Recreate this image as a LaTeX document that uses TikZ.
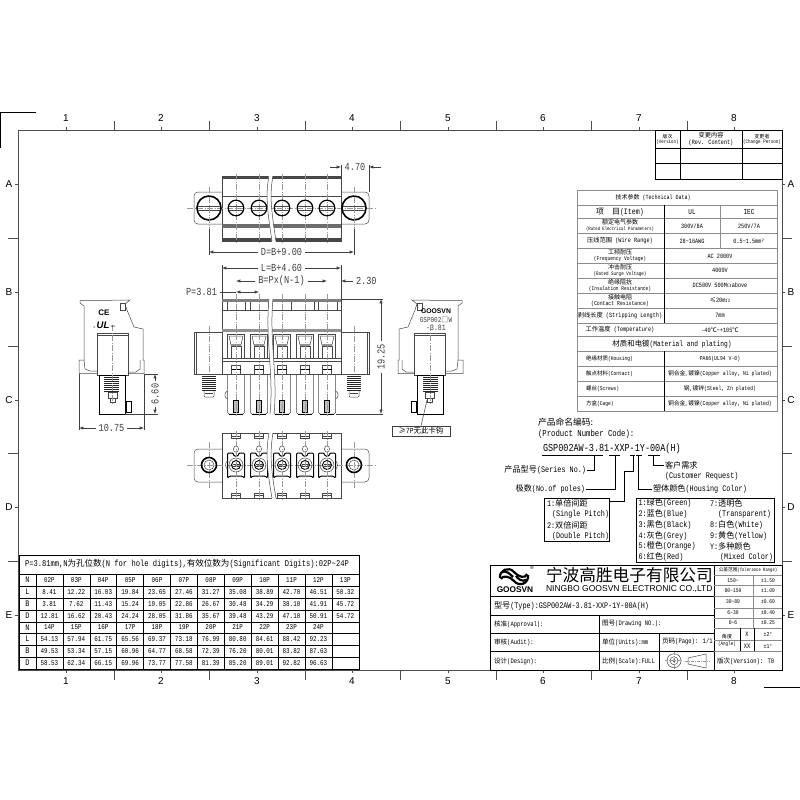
\documentclass[tikz,border=0pt]{standalone}
\usepackage{fontspec}
\setmainfont[FakeStretch=0.8,Scale=1.25]{Liberation Mono}
\newfontfamily\cjkfont[Scale=1.2]{Noto Sans CJK SC}
\newfontfamily\latinsans{Liberation Sans}
\newcommand{\cn}[1]{{\cjkfont #1}}
\newcommand{\fsz}[1]{\fontsize{#1}{\dimexpr#1pt*6/5\relax}\selectfont}
\usetikzlibrary{positioning}
\usetikzlibrary{calc}
\definecolor{framegray}{gray}{0.30}
\definecolor{partgray}{gray}{0.28}
\definecolor{centergray}{gray}{0.60}
\definecolor{dimgray}{gray}{0.25}
\definecolor{tablegray}{gray}{0.55}
\tikzset{every node/.style={inner sep=0pt, outer sep=1pt}}
\tikzset{
  frameline/.style={draw=framegray,line width=0.9pt},
  partline/.style={draw=partgray,line width=0.5pt},
  heavyline/.style={draw=black,line width=1.2pt},
  threadline/.style={draw=black!85,line width=0.8pt},
  centerline/.style={draw=centergray,line width=0.5pt,dash pattern=on 6pt off 1.5pt on 1pt off 1.5pt},
  dimline/.style={draw=dimgray,line width=0.5pt,>=latex},
  extline/.style={draw=dimgray,line width=0.4pt},
  dimtxt/.style={text=dimgray,font=\fsz{8.6},inner sep=2pt},
  gridline/.style={draw=black,line width=0.6pt},
  softline/.style={draw=tablegray,line width=0.8pt},
  lefttxt/.style={anchor=west,font=\fsz{7.1}},
  celltxt/.style={font=\fsz{5.9}},
  techtxt/.style={font=\fsz{5},align=center},
  codetxt/.style={anchor=west,font=\fsz{6.8}},
}
\newcommand{\sideview}{
  \draw[partline] (80,300.7) -- (130,300) -- (125,304) -- (127,310) -- (134,327) -- (143,329) -- (143,360) -- (144,360) -- (144,373.5) -- (79,373.5) -- (79,360) -- (84,360) -- (84,306) -- (80,303) -- cycle;
  \draw[partline] (120,303) rectangle (125,310);
  \draw[partline] (84,360) -- (85,369) -- (90,371) -- (97,371);
  \draw[partline] (140,360) -- (140,369) -- (136,372) -- (128,372);
  \draw[partline,fill=white] (97,333) rectangle (128,375);
  \draw[partline] (97,335) -- (128,335);
  \draw[line width=0.9pt,fill=white] (99,375) rectangle (125,414);
  \foreach \t in {0,...,7} {\draw[threadline] (104,377+2*\t) -- (119,377+2*\t);}
  \draw[partline] (108,392) rectangle (117,398);
  \draw[partline] (110,398) rectangle (115,402);
  \draw[line width=0.8pt,fill=white] (126,401) rectangle (131,412);
  \draw[centerline] (112,325) -- (112,405);
}
\begin{document}
\begin{tikzpicture}[x=1pt,y=-1pt]
  \useasboundingbox (0,0) rectangle (800,800);
  \fill[white] (0,0) rectangle (800,800);

  % sheet frame
  \draw[frameline] (18,130) rectangle (782,670);
  \draw[line width=0.7pt] (36,112) -- (0.4,112) -- (0.4,148);
  \draw[line width=0.7pt] (764,687) -- (800,687);
  \foreach \n/\x in {1/66,2/161,3/257,4/352,5/448,6/543,7/639,8/734} {
    \node[font=\latinsans\fsz{10}] (top\n) at (\x,118.5) {\n};
    \node[font=\latinsans\fsz{10}] (bot\n) at (\x,681) {\n};
    \draw[frameline] (\x,127) -- (\x,130) (\x,670) -- (\x,673);
  }
  \foreach \x in {114,209,305,400,496,591,687} {
    \draw[frameline] (\x,121) -- (\x,130) (\x,670) -- (\x,680);
  }
  \foreach \n/\y in {A/184,B/292,C/400,D/507,E/615} {
    \node[font=\latinsans\fsz{10}] (left\n) at (9,\y) {\n};
    \node[font=\latinsans\fsz{10}] (right\n) at (791,\y) {\n};
    \draw[frameline] (15,\y) -- (18,\y) (782,\y) -- (785,\y);
  }
  \foreach \y in {238,346,453,561} {
    \draw[frameline] (8,\y) -- (18,\y) (782,\y) -- (792,\y);
  }

  % revision table
  \draw[gridline] (655,130) rectangle (782,179);
  \foreach \y in {148,163} {\draw[gridline] (655,\y) -- (782,\y);}
  \foreach \x in {680,742} {\draw[gridline] (\x,130) -- (\x,179);}
  \node[techtxt,font=\fsz{4.1}] (revA) at (667.5,139) {\cn{版次}\\(Version)};
  \node[techtxt,font=\fsz{5.2}] (revB) at (711,139) {\cn{变更内容}\\(Rev. Content)};
  \node[techtxt,font=\fsz{4.2}] (revC) at (762,139) {\cn{变更者}\\(Change Person)};

  % technical data table
  \draw[softline] (577,190) rectangle (777,411);
  \foreach \y in {205,218,233,248,263,278,293,308,323,336,351,366,381,396} {\draw[softline,line width=0.6pt] (577,\y) -- (777,\y);}
  \draw[softline,line width=0.6pt] (720,205) -- (720,248);
  \draw[gridline] (664,205) -- (664,323);
  \draw[gridline] (664,351) -- (664,411);
  \node[font=\fsz{5}] (techHead) at (653,198) {\cn{技术参数} (Technical Data)};
  \node[font=\fsz{6.6}] (techItem) at (620,212) {\cn{项　目}(Item)};
  \node[font=\fsz{6}] (techUL) at (692,212) {UL};
  \node[font=\fsz{6}] (techIEC) at (749,212) {IEC};
  \foreach \y/\lbl [count=\i] in {
    225.5/{\cn{额定电气参数}\\{\fsz{3.9}(Rated Electrical Parameters)}},
    255.5/{\cn{工频耐压}\\{\fsz{4.6}(Frequency Voltage)}},
    270.5/{\cn{冲击耐压}\\{\fsz{4.2}(Rated Surge Voltage)}},
    285.5/{\cn{绝缘阻抗}\\{\fsz{4.5}(Insulation Resistance)}},
    300.5/{\cn{接触电阻}\\{\fsz{4.8}(Contact Resistance)}}} {
    \node[techtxt,font=\fsz{5},align=center] (techTwo\i) at (620,\y) {\lbl};
  }
  \foreach \y/\lbl [count=\i] in {
    240.5/{\cn{压线范围} (Wire Range)},
    315.5/{\cn{剥线长度} (Stripping Length)},
    330/{\cn{工作温度} (Temperature)}} {
    \node[font=\fsz{5.2}] (techOne\i) at (620,\y) {\lbl};
  }
  \node[font=\fsz{6.2}] (techMat) at (672,344) {\cn{材质和电镀}(Material and plating)};
  \foreach \y/\lbl/\val [count=\i] in {
    358.5/{\cn{绝缘材质}(Housing)}/{PA66(UL94 V-0)},
    373.5/{\cn{触点材料}(Contact)}/{\cn{铜合金, 镀镍}(Copper alloy, Ni plated)},
    388.5/{\cn{螺丝}(Screws)}/{\cn{钢, 镀锌}(Steel, Zn plated)},
    403.5/{\cn{方盒}(Cage)}/{\cn{铜合金, 镀镍}(Copper alloy, Ni plated)}} {
    \node[anchor=west,font=\fsz{4.6}] (matKey\i) at (585,\y) {\lbl};
    \node[font=\fsz{4.8}] (matVal\i) at (720,\y) {\val};
  }
  \node[font=\fsz{5.2}] (ulA) at (692,226) {300V/8A};
  \node[font=\fsz{5.2}] (iecA) at (749,226) {250V/7A};
  \node[font=\fsz{5.2}] (ulB) at (692,241) {28\textasciitilde 16AWG};
  \node[font=\fsz{5.2}] (iecB) at (749,241) {0.5\textasciitilde 1.5mm²};
  \foreach \y/\val [count=\i] in {
    256/{AC 2000V},
    270.5/{4000V},
    285.5/{DC500V 500M$\Omega$above},
    300.5/{\cn{≤}20m$\Omega$},
    315.5/{7mm},
    330/{-40\cn{℃}\textasciitilde +105\cn{℃}}} {
    \node[font=\fsz{5.2}] (techVal\i) at (720,\y) {\val};
  }

  % top view
  \draw[partline] (222,176) rectangle (341,241);
  \fill[partgray] (222,176) rectangle (341,179);
  \draw[partline] (222,196) -- (341,196);
  \fill[partgray!80] (222,224) rectangle (341,228);
  \fill[partgray] (222,238) rectangle (341,241);
  \draw[partline,rounded corners=4pt] (222,192) -- (194,192) -- (194,224) -- (222,224);
  \draw[partline,rounded corners=4pt] (341,192) -- (369,192) -- (369,224) -- (341,224);
  \draw[centerline] (187,208) -- (376,208);
  \foreach \c in {236,259,282,305,327} {
    \draw[centerline] (\c,174) -- (\c,243);
    \draw[heavyline] (\c,208) circle (7.8pt);
    \draw[partline] (\c-7,206) -- (\c+7,206) (\c-7,210) -- (\c+7,210);
  }
  \foreach \c in {209,354} {
    \draw[line width=1.6pt] (\c,208) circle (12pt);
    \draw[partline] (\c-11,206) -- (\c+11,206) (\c-11,210) -- (\c+11,210);
    \draw[centerline] (\c,187) -- (\c,229);
    \draw[extline] (\c,229) -- (\c,255);
  }
  \fill[white] (269,174) .. controls (265,196) and (268,215) .. (272,243) -- (276,243) .. controls (272,215) and (269,196) .. (273,174) -- cycle;
  \draw[partline] (269,176) .. controls (265,196) and (268,215) .. (272,241);
  \draw[partline] (273,176) .. controls (269,196) and (272,215) .. (276,241);

  % dimensions
  \foreach \name/\xa/\xb/\yy/\lbl in {
    dimD/209/354/252/{D=B+9.00},
    dimL/222/341/268/{L=B+4.60},
    dimB/236/327/281/{B=Px(N-1)}} {
    \coordinate (\name a) at (\xa,\yy);
    \coordinate (\name b) at (\xb,\yy);
    \node[dimtxt] (\name) at ($(\name a)!0.5!(\name b)$) {\lbl};
    \draw[dimline,->] (\name) -- (\name a);
    \draw[dimline,->] (\name) -- (\name b);
  }
  \draw[extline] (341,165) -- (341,176) (369,165) -- (369,192);
  \draw[extline] (222,265) -- (222,299) (341,265) -- (341,299);
  \coordinate (dimWa) at (341,167);
  \coordinate (dimWb) at (369,167);
  \coordinate (dimWc) at (330,167);
  \coordinate (dimWd) at (381,167);
  \node[dimtxt] (dimW) at (355,167) {4.70};
  \draw[dimline,->] (dimWc) -- (dimWa);
  \draw[dimline,->] (dimWd) -- (dimWb);
  \coordinate (dimSa) at (341,281);
  \coordinate (dimSb) at (353,281);
  \node[dimtxt,anchor=west] (dimS) at (353,281) {2.30};
  \draw[dimline,->] (dimSb) -- (dimSa);
  \node[dimtxt,anchor=east] (dimP) at (220,292) {P=3.81};
  \coordinate (dimPa) at (236,292);
  \coordinate (dimPb) at (259,292);
  \draw[dimline] (dimP) -- (dimPa);
  \draw[dimline,<->] (dimPa) -- (dimPb);

  % front view
  \draw[partline] (222,299) rectangle (341,374);
  \fill[partgray!70] (222,299) rectangle (341,301.5);
  \draw[partline] (222,310) -- (341,310);
  \foreach \x in {227,245,250,268,291,314,318,337} {\draw[partline] (\x,302) -- (\x,310);}
  \fill[partgray!60] (222,329) rectangle (341,332);
  \draw[partline] (222,358) -- (341,358);
  \draw[line width=0.8pt,draw=partgray] (222,361) -- (341,361);
  \foreach \x/\xb/\m in {194/222/196,341/369/367} {
    \draw[partline] (\x,332) rectangle (\xb,374);
    \draw[partline] (\m,332) -- (\m,374);
  }
  \foreach \c in {209,354} {
    \draw[centerline] (\c,326) -- (\c,372);
    \foreach \t in {0,...,7} {\draw[threadline] (\c-7,376+2*\t) -- (\c+7,376+2*\t);}
    \draw[partline,rounded corners=1pt] (\c-5,391) -- (\c-5,397) -- (\c+5,397) -- (\c+5,391);
    \draw[partline] (\c-4,393) -- (\c+4,393);
  }
  \foreach \c in {236,259,282,305,327} {
    \draw[partline] (\c-8.5,358) -- (\c-8.5,334) -- (\c+8.5,334) -- (\c+8.5,358);
    \draw[partline] (\c-7,336) -- (\c-5,345) -- (\c+5,345) -- (\c+7,336) -- cycle;
    \fill[partgray!60] (\c-5,344) rectangle (\c+5,346);
    \draw[partline] (\c-5,346) rectangle (\c+5,358);
    \draw[partline] (\c-4.5,365) rectangle (\c+4.5,374);
    \draw[line width=0.8pt] (\c-4.5,369) -- (\c+4.5,369);
    \draw[partline,rounded corners=1.5pt] (\c-8.5,374) -- (\c-8.5,414) -- (\c+8.5,414) -- (\c+8.5,374);
    \draw[line width=1pt] (\c-7,414) -- (\c+7,414);
    \draw[line width=0.7pt,fill=partgray!35] (\c-2.5,400) rectangle (\c+2.5,412);
    \draw[centerline] (\c,294) -- (\c,416);
  }
  \draw[partline] (227.5,391) .. controls (224,392) and (224,398) .. (227.5,399);
  \draw[partline] (335.5,391) .. controls (339,392) and (339,398) .. (335.5,399);
  \fill[white] (269,297) .. controls (265,340) and (274,375) .. (270,416) -- (274,416) .. controls (278,375) and (269,340) .. (273,297) -- cycle;
  \draw[partline] (269,299) .. controls (265,340) and (274,375) .. (270,414);
  \draw[partline] (273,299) .. controls (269,340) and (278,375) .. (274,414);

  % overall height
  \draw[extline] (341,299) -- (383,299) (336,414) -- (383,414);
  \coordinate (dimHa) at (381,299);
  \coordinate (dimHb) at (381,414);
  \node[dimtxt,rotate=90,fill=white] (dimH) at (381,357) {19.25};
  \draw[dimline,->] (dimH) -- (dimHa);
  \draw[dimline,->] (dimH) -- (dimHb);

  % bottom view
  \draw[partline] (222,433) rectangle (341,498);
  \draw[partline,rounded corners=4pt] (222,449) -- (194,449) -- (194,482) -- (222,482);
  \draw[partline,rounded corners=4pt] (341,449) -- (369,449) -- (369,482) -- (341,482);
  \draw[centerline] (187,465) -- (376,465);
  \foreach \c in {209,354} {
    \draw[centerline] (\c,442) -- (\c,489);
    \draw[line width=1.6pt] (\c,465) circle (7.5pt);
    \draw[partline] (\c,465) circle (5pt);
  }
  \foreach \c in {236,259,282,305,327} {
    \draw[partline] (\c-4.5,433) rectangle (\c+4.5,438);
    \draw[partline] (\c-4.5,493) rectangle (\c+4.5,498);
    \draw[partline] (\c-4.5,436) -- (\c+4.5,436) (\c-4.5,495) -- (\c+4.5,495);
    \draw[partline] (\c,449) ellipse (2.5pt and 3.2pt);
    \draw[line width=1pt,rounded corners=1pt] (\c-8.5,478) -- (\c-8.5,453) -- (\c-3,453) -- (\c-2,456) -- (\c+2,456) -- (\c+3,453) -- (\c+8.5,453) -- (\c+8.5,478) -- (\c+6,476) -- (\c-6,476) -- cycle;
    \draw[partline] (\c,465) circle (7pt);
    \draw[line width=0.9pt] (\c,465) circle (4.5pt);
    \draw[partline] (\c-3.5,463.8) -- (\c+3.5,463.8) (\c-3.5,466.2) -- (\c+3.5,466.2);
    \draw[centerline] (\c,431) -- (\c,500);
  }
  \draw[partline] (227.5,461) .. controls (225,462) and (225,468) .. (227.5,469);
  \draw[partline] (335.5,461) .. controls (338,462) and (338,468) .. (335.5,469);
  \fill[white] (269,431) .. controls (265,455) and (268,475) .. (272,500) -- (276,500) .. controls (272,475) and (269,455) .. (273,431) -- cycle;
  \draw[partline] (269,433) .. controls (265,455) and (268,475) .. (272,498);
  \draw[partline] (273,433) .. controls (269,455) and (272,475) .. (276,498);

  % side views
  \sideview
  \begin{scope}[xshift=542pt,xscale=-1]
    \sideview
  \end{scope}
  \node[font=\latinsans\bfseries\fsz{8}] (markCE) at (104,313) {CE};
  \node[font=\latinsans\bfseries\itshape\fsz{9.5}] (markUL) at (103,325) {UL};
  \node[font=\latinsans\fsz{3.5}] (markC) at (94.5,328) {c};
  \node[font=\latinsans\fsz{3.5}] (markUS) at (113,327) {us};
  \node[font=\latinsans\bfseries\fsz{6.8}] (brand) at (436,311) {GOOSVN};
  \node[font=\fsz{6},below=1pt of brand,text=dimgray] (series) {GSP002\cn{□}W};
  \node[font=\fsz{6.6},below=0.5pt of series,text=dimgray] (pitch) {-3.81};
  \draw[extline] (144,374) -- (158,374) (125,414) -- (158,414);
  \coordinate (dimFa) at (155,374);
  \coordinate (dimFb) at (155,414);
  \node[dimtxt,rotate=90] (dimF) at (155,394) {6.60};
  \draw[dimline,->] (dimF) -- (dimFa);
  \draw[dimline,->] (dimF) -- (dimFb);
  \draw[extline] (79,374) -- (79,430) (144,374) -- (144,430);
  \coordinate (dimTa) at (79,428);
  \coordinate (dimTb) at (144,428);
  \node[dimtxt] (dimT) at (111.5,428) {10.75};
  \draw[dimline,->] (dimT) -- (dimTa);
  \draw[dimline,->] (dimT) -- (dimTb);

  \node[draw=dimgray,line width=0.6pt,minimum width=58pt,minimum height=10pt,font=\fsz{6.2},outer sep=0pt] (hookNote) at (421,431) {\cn{≥}7P\cn{无此卡钩}};
  \coordinate (hookEnd) at (427,400);
  \draw[dimline] (hookNote.north) -- (hookEnd);

  % part number code
  \node[codetxt,font=\fsz{7.3}] (codeCn) at (537,422) {\cn{产品命名编码:}};
  \node[codetxt,font=\fsz{7.3}] (codeEn) at (537,434.5) {(Product Number Code):};
  \node[codetxt,font=\fsz{8.5}] (codeNo) at (542,449) {GSP002AW-3.81-XXP-1Y-00A(H)};
  \foreach \xa/\xb in {542/603,609/620,630/635,636/642,648/660} {\draw[line width=0.6pt] (\xa,455) -- (\xb,455);}
  \node[codetxt,anchor=east] (lblSeries) at (587,470) {\cn{产品型号}(Series No.)};
  \node[codetxt,anchor=east] (lblPoles) at (586,489) {\cn{极数}(No.of poles)};
  \node[codetxt] (lblColor) at (652,489) {\cn{塑体颜色}(Housing Color)};
  \node[codetxt] (lblReq) at (664,465) {\cn{客户需求}};
  \node[codetxt,below=2pt of lblReq.south west,anchor=north west] (lblReqEn) {(Customer Request)};
  \coordinate (legA) at (594,455);
  \coordinate (legB) at (615,455);
  \coordinate (legC) at (633,455);
  \coordinate (legD) at (638,455);
  \coordinate (legE) at (653,455);
  \draw[line width=0.6pt] (legA) -- (legA |- lblSeries) -- (lblSeries);
  \draw[line width=0.6pt] (legB) -- (legB |- lblPoles) -- (lblPoles);
  \draw[line width=0.6pt] (legD) -- (legD |- lblColor) -- (lblColor);
  \draw[line width=0.6pt] (legE) -- (legE |- lblReq) -- (lblReq);
  \draw[gridline] (544,498) rectangle (609,541);
  \draw[gridline] (636,498) rectangle (774,562);
  \coordinate (pitchBox) at (609,501);
  \draw[line width=0.6pt] (legC) -- (633,471) -- (624,471) -- (624,501) -- (pitchBox);
  \foreach \x/\y/\lbl [count=\i] in {
    546/503/{1:\cn{单倍间距}},
    551/514/{(Single Pitch)},
    546/525/{2:\cn{双倍间距}},
    551/536/{(Double Pitch)},
    637.5/503/{1:\cn{绿色}(Green)},
    637.5/514/{2:\cn{蓝色}(Blue)},
    637.5/525/{3:\cn{黑色}(Black)},
    637.5/536/{4:\cn{灰色}(Grey)},
    637.5/546/{5:\cn{橙色}(Orange)},
    637.5/557/{6:\cn{红色}(Red)},
    709/503/{7:\cn{透明色}},
    717/514/{(Transparent)},
    709/525/{8:\cn{白色}(White)},
    709/536/{9:\cn{黄色}(Yellow)},
    709/546/{Y:\cn{多种颜色}},
    719/557/{(Mixed Color)}} {
    \node[codetxt] (legend\i) at (\x,\y) {\lbl};
  }

  % dimension table
  \draw[gridline] (19,555) rectangle (359,669);
  \node[lefttxt] (tableHead) at (24,564) {P=3.81mm,N\cn{为孔位数}(N for hole digits),\cn{有效位数为}(Significant Digits):02P\textasciitilde 24P};
  \foreach \y in {574,586,598,610,622,633,645,657} {\draw[gridline] (19,\y) -- (359,\y);}
  \foreach \i in {0,...,11} {\draw[gridline] (36+26.9*\i,574) -- (36+26.9*\i,669);}
  \foreach \lbl/\y [count=\r] in {N/580,L/592,B/604,D/616,N/627.5,L/639,B/651,D/663} {
    \node[font=\fsz{6.8}] (rowkey\r) at (27.5,\y) {\lbl};
  }
  \foreach \y/\vals [count=\r] in {
    580/{02P,03P,04P,05P,06P,07P,08P,09P,10P,11P,12P,13P},
    592/{8.41,12.22,16.03,19.84,23.65,27.46,31.27,35.08,38.89,42.70,46.51,50.32},
    604/{3.81,7.62,11.43,15.24,19.05,22.86,26.67,30.48,34.29,38.10,41.91,45.72},
    616/{12.81,16.62,20.43,24.24,28.05,31.86,35.67,39.48,43.29,47.10,50.91,54.72},
    627.5/{14P,15P,16P,17P,18P,19P,20P,21P,22P,23P,24P},
    639/{54.13,57.94,61.75,65.56,69.37,73.18,76.99,80.80,84.61,88.42,92.23},
    651/{49.53,53.34,57.15,60.96,64.77,68.58,72.39,76.20,80.01,83.82,87.63},
    663/{58.53,62.34,66.15,69.96,73.77,77.58,81.39,85.20,89.01,92.82,96.63}} {
    \foreach \v [count=\c] in \vals {
      \node[celltxt] (cell\r-\c) at (22.5+26.9*\c,\y) {\v};
    }
  }

  % title block
  \draw[line width=0.9pt] (490,565) rectangle (782,670);
  \draw[gridline] (714,565) -- (714,670);
  \foreach \y in {596,615,633,651} {\draw[gridline] (490,\y) -- (714,\y);}
  \draw[gridline] (599,615) -- (599,670);
  \draw[gridline] (659,633) -- (659,670);
  \foreach \y in {575,585,596,608,618,628,640,651} {\draw[softline,line width=0.5pt] (714,\y) -- (782,\y);}
  \draw[softline,line width=0.5pt] (753,575) -- (753,628);
  \draw[gridline] (740,628) -- (740,651) (754,628) -- (754,651);
  \draw[line width=2.2pt] (500,578) .. controls (499,570) and (509,566) .. (514,572) .. controls (518,577) and (526,579) .. (527,574);
  \draw[line width=2.2pt] (528,575) .. controls (529,584) and (519,587) .. (514,581) .. controls (510,576) and (502,575) .. (501,579);
  \draw[line width=2.2pt] (502,572) .. controls (506,570) and (510,574) .. (513,577);
  \draw[line width=2.2pt] (526,580) .. controls (522,582) and (518,579) .. (516,576);
  \node[font=\latinsans\fsz{5}] (logoR) at (532,568) {®};
  \node[font=\latinsans\bfseries\fsz{8.3}] (logoName) at (515,589.5) {GOOSVN};
  \node[font=\cjkfont\fsz{13.9},anchor=west] (firmCn) at (545,575) {宁波高胜电子有限公司};
  \node[font=\latinsans\fsz{8.55},anchor=west] (firmEn) at (545,589.5) {NINGBO GOOSVN ELECTRONIC CO.,LTD};
  \node[anchor=west,font=\fsz{6.8}] (blockType) at (493,606) {\cn{型号}(Type):GSP002AW-3.81-XXP-1Y-00A(H)};
  \foreach \x/\y/\lbl [count=\i] in {
    493/624/{\cn{核准}(Approval):},
    493/642/{\cn{审核}(Audit):},
    493/661/{\cn{设计}(Design):},
    601/624/{\cn{图号}(Drawing NO.):},
    601/642/{\cn{单位}(Units):mm},
    601/661/{\cn{比例}(Scale):FULL},
    661/642/{\cn{页码}(Page): 1/1},
    716/661/{\cn{版次}(Version): T0}} {
    \node[anchor=west,font=\fsz{5.5}] (block\i) at (\x,\y) {\lbl};
  }
  \node[font=\fsz{3.9}] (tolHead) at (748,570) {\cn{公差范围}(Tolerance Range)};
  \foreach \y/\rng/\tol [count=\i] in {
    580.5/{150\textasciitilde}/{±1.50},
    590.5/{80\textasciitilde 150}/{±1.00},
    602/{30\textasciitilde 80}/{±0.60},
    613/{6\textasciitilde 30}/{±0.40},
    623/{0\textasciitilde 6}/{±0.25}} {
    \node[font=\fsz{4.6}] (tolRange\i) at (733,\y) {\rng};
    \node[font=\fsz{4.6}] (tolValue\i) at (768,\y) {\tol};
  }
  \node[font=\fsz{4.2},align=center] (tolAngle) at (727,640) {\cn{角度}\\[2pt](Angle)};
  \node[font=\fsz{5.4}] (tolX) at (747,634) {X};
  \node[font=\fsz{5.4}] (tolXX) at (747,646) {XX};
  \node[font=\fsz{4.8}] (tolDegA) at (768,634) {±2°};
  \node[font=\fsz{4.8}] (tolDegB) at (768,646) {±1°};
  \draw[partline] (674,660.7) circle (7pt);
  \draw[partline] (674,660.7) circle (4pt);
  \draw[partline] (674,660.7) circle (1.3pt);
  \draw[partline] (688,658) -- (706,654) -- (706,668) -- (688,664) -- cycle;
  \draw[centerline,dash pattern=on 3pt off 1pt on 1pt off 1pt] (685,661) -- (710,661);
  \draw[centerline,dash pattern=on 3pt off 1pt on 1pt off 1pt] (665,660.7) -- (683,660.7) (674,652) -- (674,669);
\end{tikzpicture}
\end{document}
